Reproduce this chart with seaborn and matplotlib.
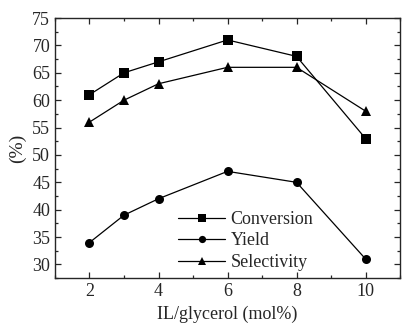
import numpy as np
import pandas as pd
import matplotlib
matplotlib.use("Agg")
import matplotlib.pyplot as plt
import seaborn as sns
from matplotlib.ticker import MultipleLocator

# -------- data --------
ratio = [2, 3, 4, 6, 8, 10]
conversion = [61, 65, 67, 71, 68, 53]
yield_ = [34, 39, 42, 47, 45, 31]
selectivity = [56, 60, 63, 66, 66, 58]

df = pd.DataFrame({"ratio": ratio, "Conversion": conversion,
                   "Yield": yield_, "Selectivity": selectivity})
long = df.melt(id_vars="ratio", var_name="series", value_name="value")

sns.set_style("ticks")
plt.rcParams["font.family"] = ["Liberation Serif", "DejaVu Serif"]

fig = plt.figure(figsize=(4.15, 3.28), dpi=100)
ax = fig.add_axes([0.1325, 0.152, 0.8315, 0.793])

sns.lineplot(data=long, x="ratio", y="value", hue="series", style="series",
             markers={"Conversion": "s", "Yield": "o", "Selectivity": "^"},
             dashes=False, palette=["black"] * 3, markersize=6.5, linewidth=0.9,
             markeredgewidth=0, ax=ax)

ax.set_xlim(1, 11)
ax.set_ylim(27.5, 75)
ax.xaxis.set_major_locator(MultipleLocator(2))
ax.xaxis.set_minor_locator(MultipleLocator(1))
ax.yaxis.set_major_locator(MultipleLocator(5))
ax.yaxis.set_minor_locator(MultipleLocator(2.5))
ax.tick_params(which="both", direction="in", top=True, right=True,
               labelsize=13, width=0.9)
ax.tick_params(which="major", length=4)
ax.tick_params(which="minor", length=2.5)
for s in ax.spines.values():
    s.set_linewidth(1.0)

ax.set_xlabel("IL/glycerol (mol%)", fontsize=13)
ax.set_ylabel("(%)", fontsize=14)

ax.legend(loc="lower left", bbox_to_anchor=(0.31, -0.035), frameon=False,
          fontsize=13, handlelength=2.6, labelspacing=0.25, handletextpad=0.3,
          markerscale=0.8)

fig.savefig("out.png", dpi=100)
